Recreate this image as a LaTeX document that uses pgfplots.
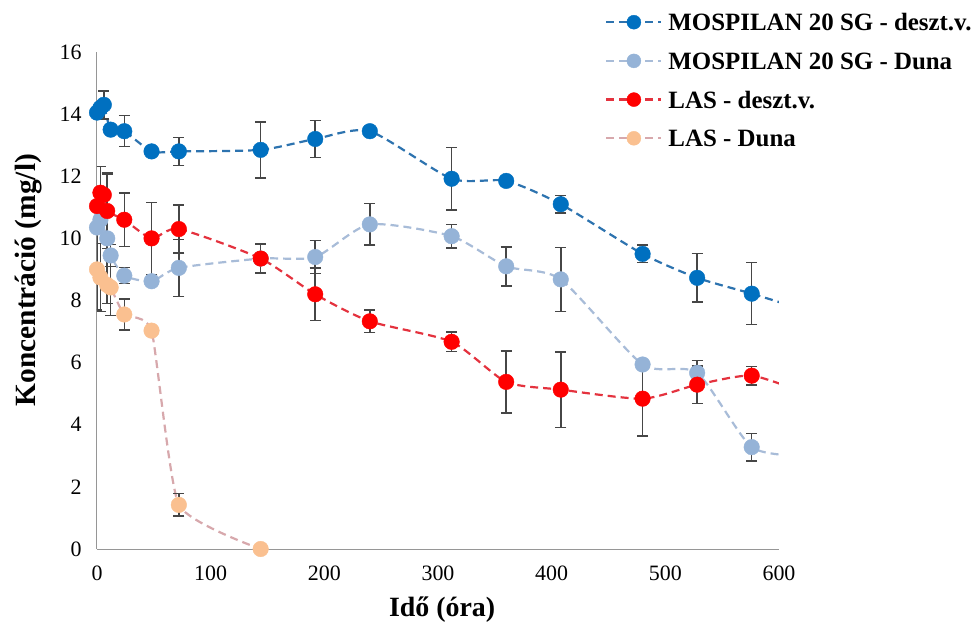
\documentclass[border=0pt]{standalone}
\usepackage{fontspec}
\setmainfont{Liberation Serif}
\usepackage{pgfplots}
\pgfplotsset{compat=1.18}
\definecolor{dblue}{RGB}{0,112,192}
\definecolor{dblueline}{RGB}{45,115,175}
\definecolor{lblue}{RGB}{149,179,215}
\definecolor{lblueline}{RGB}{168,188,216}
\definecolor{redm}{RGB}{255,0,0}
\definecolor{redline}{RGB}{228,50,62}
\definecolor{peach}{RGB}{250,192,144}
\definecolor{peachline}{RGB}{215,168,172}
\definecolor{errc}{RGB}{70,70,70}
\definecolor{axisc}{RGB}{150,150,150}
\begin{document}
\begin{tikzpicture}
\begin{axis}[
  scale only axis, width=682bp, height=497bp,
  at={(0,0)}, anchor=south west,
  xmin=0, xmax=600, ymin=0, ymax=16,
  axis lines=left, axis line style={-, draw=axisc, line width=1bp},
  clip=true, clip marker paths=false,
  xtick={0,100,...,600}, ytick={0,2,...,16},
  major tick length=0pt,
  /pgf/number format/assume math mode=true,
  tick label style={font=\fontsize{22}{26}\selectfont},
  xticklabel style={yshift=-13bp},
  yticklabel style={xshift=-12bp},
  xlabel={\bfseries Idő (óra)},
  ylabel={\bfseries Koncentráció (mg/l)},
  xlabel style={font=\fontsize{28}{32}\selectfont, at={(axis description cs:0.506,-0.123)}, anchor=center},
  ylabel style={font=\fontsize{29.5}{33}\selectfont, at={(axis description cs:-0.101,0.541)}, anchor=center},
  legend style={at={(axis description cs:0.745,1.0815)}, anchor=north west,
    draw=none, fill=none, inner sep=0pt,
    font=\bfseries\fontsize{25}{29}\selectfont,
    nodes={inner sep=2bp, text height=17bp, text depth=0bp},
    row sep=17.7bp, column sep=4bp},
  legend cell align=left,
  error bars/y dir=both, error bars/y explicit,
]
% ---------- MOSPILAN 20 SG - deszt.v.
\addplot[dblueline, line width=2.2bp, dash pattern=on 8bp off 5bp, smooth, tension=0.4, forget plot] coordinates {
 (0,14.05) (3,14.2) (6,14.3) (12,13.5) (24,13.45) (48,12.8) (72,12.8) (144,12.85) (192,13.2) (240,13.45) (312,11.92) (360,11.85) (408,11.1) (480,9.5) (528,8.73) (576,8.22) (624,7.68)};
\addplot[draw=none, forget plot, error bars/error bar style={errc, line width=1.5bp}, error bars/error mark options={errc, line width=1.5bp, mark size=5.5bp, rotate=90}] coordinates {
 (6,14.3) +- (0,0.45) (24,13.45) +- (0,0.5) (72,12.8) +- (0,0.45) (144,12.85) +- (0,0.9) (192,13.2) +- (0,0.6) (312,11.92) +- (0,1.0) (408,11.1) +- (0,0.28) (480,9.5) +- (0,0.28) (528,8.73) +- (0,0.78) (576,8.22) +- (0,1.0)};
\addplot[only marks, mark=*, mark size=7.8bp, dblue, mark options={draw=dblue, fill=dblue},
  legend image code/.code={\draw[dblueline, line width=2.2bp, dash pattern=on 8bp off 5bp] (0bp,0bp)--(55bp,0bp); \fill[dblue] (27.5bp,0bp) circle (7bp);}] coordinates {
 (0,14.05) (3,14.2) (6,14.3) (12,13.5) (24,13.45) (48,12.8) (72,12.8) (144,12.85) (192,13.2) (240,13.45) (312,11.92) (360,11.85) (408,11.1) (480,9.5) (528,8.73) (576,8.22)};
\addlegendentry{MOSPILAN 20 SG - deszt.v.}
% ---------- MOSPILAN 20 SG - Duna
\addplot[lblueline, line width=2.2bp, dash pattern=on 8bp off 5bp, smooth, tension=0.4, forget plot] coordinates {
 (0,10.35) (3,10.6) (9,10.0) (12,9.45) (24,8.8) (48,8.62) (72,9.05) (144,9.35) (192,9.4) (240,10.45) (312,10.07) (360,9.1) (408,8.68) (480,5.94) (528,5.67) (576,3.28) (624,3.0)};
\addplot[draw=none, forget plot, error bars/error bar style={errc, line width=1.5bp}, error bars/error mark options={errc, line width=1.5bp, mark size=5.5bp, rotate=90}] coordinates {
 (0,10.35) +- (0,1.3) (9,10.0) +- (0,2.1) (12,9.45) +- (0,0.35) (24,8.8) +- (0,0.26) (72,9.05) +- (0,0.92) (192,9.4) +- (0,0.53) (240,10.45) +- (0,0.67) (312,10.07) +- (0,0.38) (360,9.1) +- (0,0.63) (408,8.68) +- (0,1.03) (528,5.67) +- (0,0.4) (576,3.28) +- (0,0.44)};
\addplot[only marks, mark=*, mark size=7.8bp, lblue, mark options={draw=lblue, fill=lblue},
  legend image code/.code={\draw[lblueline, line width=2.2bp, dash pattern=on 8bp off 5bp] (0bp,0bp)--(55bp,0bp); \fill[lblue] (27.5bp,0bp) circle (7bp);}] coordinates {
 (0,10.35) (3,10.6) (9,10.0) (12,9.45) (24,8.8) (48,8.62) (72,9.05) (144,9.35) (192,9.4) (240,10.45) (312,10.07) (360,9.1) (408,8.68) (480,5.94) (528,5.67) (576,3.28)};
\addlegendentry{MOSPILAN 20 SG - Duna}
% ---------- LAS - deszt.v.
\addplot[redline, line width=2.2bp, dash pattern=on 8bp off 5bp, smooth, tension=0.4, forget plot] coordinates {
 (0,11.04) (3,11.47) (6,11.4) (9,10.88) (24,10.6) (48,10.0) (72,10.3) (144,9.35) (192,8.2) (240,7.33) (312,6.67) (360,5.38) (408,5.13) (480,4.84) (528,5.29) (576,5.58) (624,5.0)};
\addplot[draw=none, forget plot, error bars/error bar style={errc, line width=1.5bp}, error bars/error mark options={errc, line width=1.5bp, mark size=5.5bp, rotate=90}] coordinates {
 (3,11.47) +- (0,0.85) (9,10.88) +- (0,1.2) (24,10.6) +- (0,0.86) (48,10.0) +- (0,1.16) (72,10.3) +- (0,0.77) (144,9.35) +- (0,0.47) (192,8.2) +- (0,0.84) (240,7.33) +- (0,0.36) (312,6.67) +- (0,0.31) (360,5.38) +- (0,1.0) (408,5.13) +- (0,1.22) (480,4.84) +- (0,1.2) (528,5.29) +- (0,0.6) (576,5.58) +- (0,0.3)};
\addplot[only marks, mark=*, mark size=7.8bp, redm, mark options={draw=redm, fill=redm},
  legend image code/.code={\draw[redline, line width=2.2bp, dash pattern=on 8bp off 5bp] (0bp,0bp)--(55bp,0bp); \fill[redm] (27.5bp,0bp) circle (7bp);}] coordinates {
 (0,11.04) (3,11.47) (6,11.4) (9,10.88) (24,10.6) (48,10.0) (72,10.3) (144,9.35) (192,8.2) (240,7.33) (312,6.67) (360,5.38) (408,5.13) (480,4.84) (528,5.29) (576,5.58)};
\addlegendentry{LAS - deszt.v.}
% ---------- LAS - Duna
\addplot[peachline, line width=2.2bp, dash pattern=on 8bp off 5bp, smooth, tension=0.3, forget plot] coordinates {
 (0,9.0) (3,8.74) (9,8.5) (12,8.42) (24,7.55) (48,7.03) (72,1.42) (144,0)};
\addplot[draw=none, forget plot, error bars/error bar style={errc, line width=1.5bp}, error bars/error mark options={errc, line width=1.5bp, mark size=5.5bp, rotate=90}] coordinates {
 (0,9.0) +- (0,1.3) (3,8.74) +- (0,1.1) (12,8.42) +- (0,0.9) (24,7.55) +- (0,0.5) (72,1.42) +- (0,0.36)};
\addplot[only marks, mark=*, mark size=7.8bp, peach, mark options={draw=peach, fill=peach},
  legend image code/.code={\draw[peachline, line width=2.2bp, dash pattern=on 8bp off 5bp] (0bp,0bp)--(55bp,0bp); \fill[peach] (27.5bp,0bp) circle (7bp);}] coordinates {
 (0,9.0) (3,8.74) (9,8.5) (12,8.42) (24,7.55) (48,7.03) (72,1.42) (144,0)};
\addlegendentry{LAS - Duna}
\end{axis}
\pgfresetboundingbox
\path[use as bounding box] (-97bp,-78bp) rectangle (881bp,549bp);
\end{tikzpicture}
\end{document}
